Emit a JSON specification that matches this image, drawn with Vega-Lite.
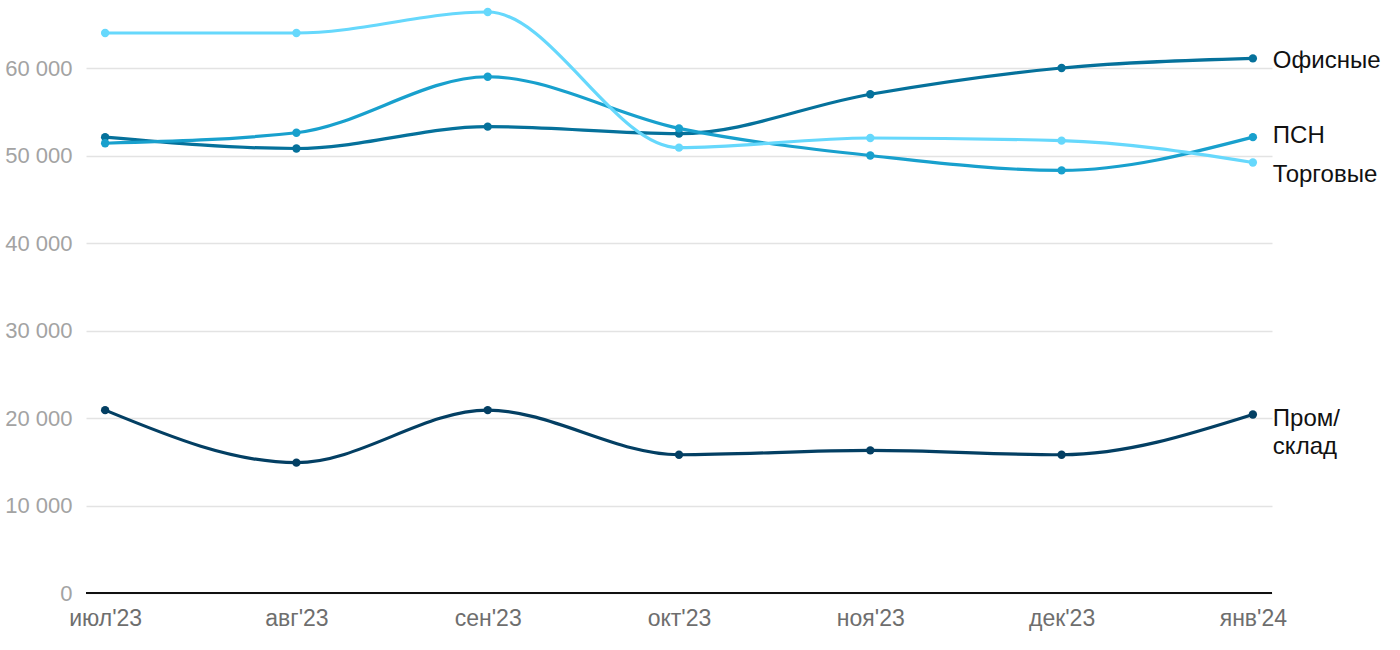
{
  "$schema": "https://vega.github.io/schema/vega-lite/v6.json",
  "autosize": "none",
  "width": 1186,
  "height": 588,
  "padding": {"left": 86, "top": 5, "right": 128, "bottom": 57},
  "background": "white",
  "config": {
    "font": "Liberation Sans",
    "view": {"stroke": null},
    "axis": {"labelFont": "Liberation Sans", "ticks": false, "title": null}
  },
  "data": {
    "values": [
      {"month": "июл'23", "series": "Офисные", "value": 52100},
      {"month": "авг'23", "series": "Офисные", "value": 50800},
      {"month": "сен'23", "series": "Офисные", "value": 53300},
      {"month": "окт'23", "series": "Офисные", "value": 52500},
      {"month": "ноя'23", "series": "Офисные", "value": 57000},
      {"month": "дек'23", "series": "Офисные", "value": 60000},
      {"month": "янв'24", "series": "Офисные", "value": 61100},
      {"month": "июл'23", "series": "ПСН", "value": 51400},
      {"month": "авг'23", "series": "ПСН", "value": 52600},
      {"month": "сен'23", "series": "ПСН", "value": 59000},
      {"month": "окт'23", "series": "ПСН", "value": 53100},
      {"month": "ноя'23", "series": "ПСН", "value": 50000},
      {"month": "дек'23", "series": "ПСН", "value": 48300},
      {"month": "янв'24", "series": "ПСН", "value": 52100},
      {"month": "июл'23", "series": "Торговые", "value": 64000},
      {"month": "авг'23", "series": "Торговые", "value": 64000},
      {"month": "сен'23", "series": "Торговые", "value": 66400},
      {"month": "окт'23", "series": "Торговые", "value": 50900},
      {"month": "ноя'23", "series": "Торговые", "value": 52000},
      {"month": "дек'23", "series": "Торговые", "value": 51700},
      {"month": "янв'24", "series": "Торговые", "value": 49200},
      {"month": "июл'23", "series": "Пром/склад", "value": 20900},
      {"month": "авг'23", "series": "Пром/склад", "value": 14900},
      {"month": "сен'23", "series": "Пром/склад", "value": 20900},
      {"month": "окт'23", "series": "Пром/склад", "value": 15800},
      {"month": "ноя'23", "series": "Пром/склад", "value": 16300},
      {"month": "дек'23", "series": "Пром/склад", "value": 15800},
      {"month": "янв'24", "series": "Пром/склад", "value": 20400}
    ]
  },
  "encoding": {
    "x": {
      "field": "month",
      "type": "ordinal",
      "sort": ["июл'23", "авг'23", "сен'23", "окт'23", "ноя'23", "дек'23", "янв'24"],
      "scale": {"type": "point", "padding": 0.1},
      "axis": {
        "labelAngle": 0,
        "labelFontSize": 23,
        "labelColor": "#6e6e6e",
        "labelPadding": 14,
        "domain": false,
        "grid": false
      }
    },
    "y": {
      "field": "value",
      "type": "quantitative",
      "scale": {"domain": [0, 67200], "nice": false},
      "axis": {
        "values": [0, 10000, 20000, 30000, 40000, 50000, 60000],
        "labelExpr": "replace(format(datum.value, ','), ',', ' ')",
        "labelFontSize": 22,
        "labelColor": "#a3a3a3",
        "labelPadding": 14,
        "domain": false,
        "gridColor": "#e3e3e3",
        "gridWidth": 1.5
      }
    },
    "color": {
      "field": "series",
      "type": "nominal",
      "scale": {
        "domain": ["Офисные", "ПСН", "Торговые", "Пром/склад"],
        "range": ["#05719b", "#18a0cd", "#66d8fc", "#033f63"]
      },
      "legend": null
    }
  },
  "layer": [
    {
      "mark": {"type": "rule", "color": "#111111", "strokeWidth": 2},
      "encoding": {"y": {"datum": 0}, "x": null, "color": null}
    },
    {
      "mark": {
        "type": "line",
        "interpolate": "monotone",
        "strokeWidth": 3.2,
        "point": {"filled": true, "size": 70, "opacity": 1}
      }
    },
    {
      "transform": [{"filter": "datum.month == \"янв'24\" && datum.series == 'Офисные'"}],
      "mark": {"type": "text", "align": "left", "baseline": "middle", "dx": 20, "dy": 3, "fontSize": 24, "color": "#111111"},
      "encoding": {"text": {"field": "series"}, "color": null}
    },
    {
      "transform": [{"filter": "datum.month == \"янв'24\" && datum.series == 'ПСН'"}],
      "mark": {"type": "text", "align": "left", "baseline": "middle", "dx": 20, "dy": -1, "fontSize": 24, "color": "#111111"},
      "encoding": {"text": {"field": "series"}, "color": null}
    },
    {
      "transform": [{"filter": "datum.month == \"янв'24\" && datum.series == 'Торговые'"}],
      "mark": {"type": "text", "align": "left", "baseline": "middle", "dx": 20, "dy": 12, "fontSize": 24, "color": "#111111"},
      "encoding": {"text": {"field": "series"}, "color": null}
    },
    {
      "transform": [{"filter": "datum.month == \"янв'24\" && datum.series == 'Пром/склад'"}],
      "mark": {"type": "text", "align": "left", "baseline": "top", "dx": 20, "dy": -8, "fontSize": 24, "lineHeight": 28, "color": "#111111"},
      "encoding": {"text": {"value": ["Пром/", "склад"]}, "color": null}
    }
  ]
}
